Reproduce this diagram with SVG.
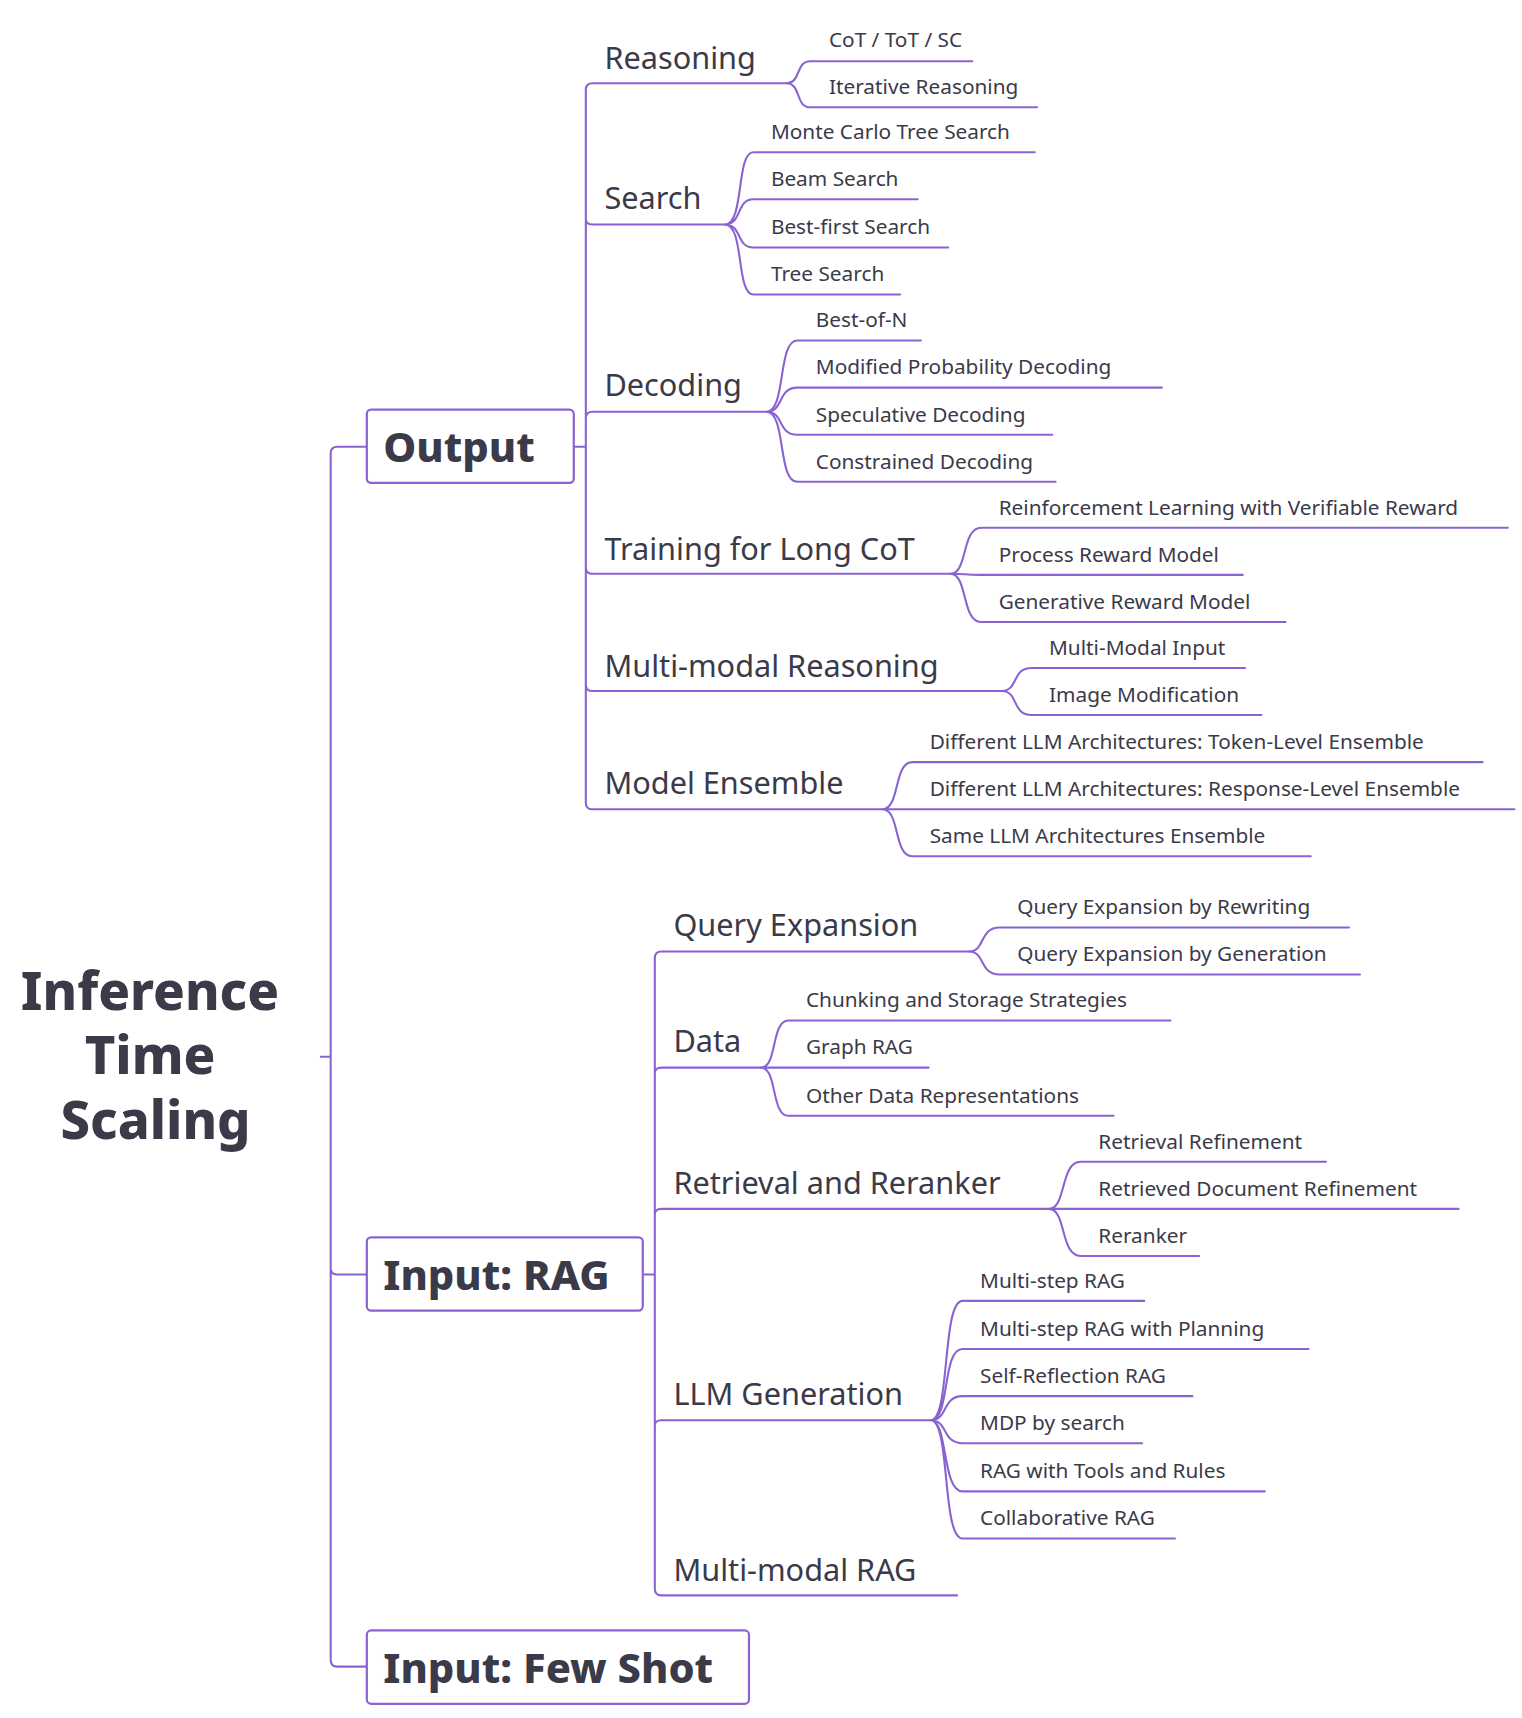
<svg xmlns="http://www.w3.org/2000/svg" width="1522" height="1718" viewBox="0 0 1522 1718">
<style>
.c{fill:none;stroke:#8a63d2;stroke-width:1.9;stroke-linecap:round}
.box{fill:#fff;stroke:#8a63d2;stroke-width:2}
.t0{font-family:"Noto Sans",sans-serif;font-weight:800;font-size:48px;fill:#3b3a48}
.t1{font-family:"Noto Sans",sans-serif;font-weight:800;font-size:38px;fill:#3b3a48}
.t2{font-family:"Noto Sans",sans-serif;font-size:28px;fill:#3b3a48}
.t3{font-family:"Noto Sans",sans-serif;font-size:19px;fill:#3b3a48}
</style>
<rect width="1522" height="1718" fill="#fff"/>
<g transform="scale(1.095)">
<g id="connectors">
<path class="c" d="M293 965 H302 M335 408 H308 Q302 408 302 414 V1516 Q302 1522 308 1522 H335 M302 1158 Q302 1164 308 1164 H335"/>
<path class="c" d="M524 408 H535 M535 82 Q535 76 541 76 H718 M535 200 Q535 205 541 205 H662 M535 382 Q535 376 541 376 H700 M535 518 Q535 524 541 524 H868 M535 625 Q535 631 541 631 H915 M535 82 V733 Q535 739 541 739 H806"/>
<path class="c" d="M587 1164 H598 M598 875 Q598 869 604 869 H885 M598 980 Q598 975 604 975 H695 M598 1109 Q598 1104 604 1104 H958 M598 1302 Q598 1297 604 1297 H850 M598 875 V1451 Q598 1457 604 1457 H874"/>
<path class="c" d="M718 76 C732 76 726 56 740 56 H888 M718 76 C732 76 726 98 740 98 H947
M662 205 C680 205 672 139 688 139 H945 M662 205 C678 205 672 182 688 182 H838 M662 205 C678 205 672 226 688 226 H866 M662 205 C680 205 672 269 688 269 H822
M700 376 C718 376 710 311 728 311 H841 M700 376 C716 376 710 354 728 354 H1061 M700 376 C716 376 710 397 728 397 H961 M700 376 C718 376 710 440 728 440 H964
M868 524 C884 524 878 482 896 482 H1377 M868 524 C884 524 878 525 896 525 H1135 M868 524 C884 524 878 568 896 568 H1174
M915 631 C930 631 924 610 942 610 H1137 M915 631 C930 631 924 653 942 653 H1152
M806 739 C822 739 816 696 833 696 H1354 M806 739 C822 739 816 739 833 739 H1383 M806 739 C822 739 816 782 833 782 H1197
M885 869 C900 869 894 847 913 847 H1232 M885 869 C900 869 894 890 913 890 H1242
M695 975 C710 975 704 932 720 932 H1069 M695 975 C710 975 704 975 720 975 H848 M695 975 C710 975 704 1019 720 1019 H1017
M958 1104 C974 1104 968 1061 987 1061 H1211 M958 1104 C974 1104 968 1104 987 1104 H1332 M958 1104 C974 1104 968 1147 987 1147 H1095
M850 1297 C868 1297 860 1188 879 1188 H1045 M850 1297 C868 1297 860 1232 879 1232 H1195 M850 1297 C866 1297 860 1275 879 1275 H1089 M850 1297 C866 1297 860 1318 879 1318 H1043 M850 1297 C866 1297 860 1362 879 1362 H1155 M850 1297 C868 1297 860 1405 879 1405 H1073"/>
</g>
<g id="root"><text class="t0" text-anchor="middle"><tspan x="137" y="922">Inference</tspan><tspan x="137" y="981">Time</tspan><tspan x="142" y="1040">Scaling</tspan></text></g>
<g id="output"><rect class="box" x="335" y="374" width="189" height="67" rx="4"/><text class="t1" x="350" y="422">Output</text></g>
<g id="rag"><rect class="box" x="335" y="1130" width="252" height="67" rx="4"/><text class="t1" x="350" y="1178">Input: RAG</text></g>
<g id="fewshot"><rect class="box" x="335" y="1489" width="349" height="67" rx="4"/><text class="t1" x="350" y="1537">Input: Few Shot</text></g>
<g id="l2">
<text class="t2" x="552" y="63">Reasoning</text>
<text class="t2" x="552" y="191">Search</text>
<text class="t2" x="552" y="362">Decoding</text>
<text class="t2" x="552" y="511">Training for Long CoT</text>
<text class="t2" x="552" y="618">Multi-modal Reasoning</text>
<text class="t2" x="552" y="725">Model Ensemble</text>
<text class="t2" x="615" y="855">Query Expansion</text>
<text class="t2" x="615" y="961">Data</text>
<text class="t2" x="615" y="1090">Retrieval and Reranker</text>
<text class="t2" x="615" y="1283">LLM Generation</text>
<text class="t2" x="615" y="1444">Multi-modal RAG</text>
</g>
<g id="leaves">
<text class="t3" x="757" y="43">CoT / ToT / SC</text>
<text class="t3" x="757" y="86">Iterative Reasoning</text>
<text class="t3" x="704" y="127">Monte Carlo Tree Search</text>
<text class="t3" x="704" y="170">Beam Search</text>
<text class="t3" x="704" y="214">Best-first Search</text>
<text class="t3" x="704" y="257">Tree Search</text>
<text class="t3" x="745" y="299">Best-of-N</text>
<text class="t3" x="745" y="342">Modified Probability Decoding</text>
<text class="t3" x="745" y="385">Speculative Decoding</text>
<text class="t3" x="745" y="428">Constrained Decoding</text>
<text class="t3" x="912" y="470">Reinforcement Learning with Verifiable Reward</text>
<text class="t3" x="912" y="513">Process Reward Model</text>
<text class="t3" x="912" y="556">Generative Reward Model</text>
<text class="t3" x="958" y="598">Multi-Modal Input</text>
<text class="t3" x="958" y="641">Image Modification</text>
<text class="t3" x="849" y="684">Different LLM Architectures: Token-Level Ensemble</text>
<text class="t3" x="849" y="727">Different LLM Architectures: Response-Level Ensemble</text>
<text class="t3" x="849" y="770">Same LLM Architectures Ensemble</text>
<text class="t3" x="929" y="835">Query Expansion by Rewriting</text>
<text class="t3" x="929" y="878">Query Expansion by Generation</text>
<text class="t3" x="736" y="920">Chunking and Storage Strategies</text>
<text class="t3" x="736" y="963">Graph RAG</text>
<text class="t3" x="736" y="1007">Other Data Representations</text>
<text class="t3" x="1003" y="1049">Retrieval Refinement</text>
<text class="t3" x="1003" y="1092">Retrieved Document Refinement</text>
<text class="t3" x="1003" y="1135">Reranker</text>
<text class="t3" x="895" y="1176">Multi-step RAG</text>
<text class="t3" x="895" y="1220">Multi-step RAG with Planning</text>
<text class="t3" x="895" y="1263">Self-Reflection RAG</text>
<text class="t3" x="895" y="1306">MDP by search</text>
<text class="t3" x="895" y="1350">RAG with Tools and Rules</text>
<text class="t3" x="895" y="1393">Collaborative RAG</text>
</g>
</g>
</svg>
